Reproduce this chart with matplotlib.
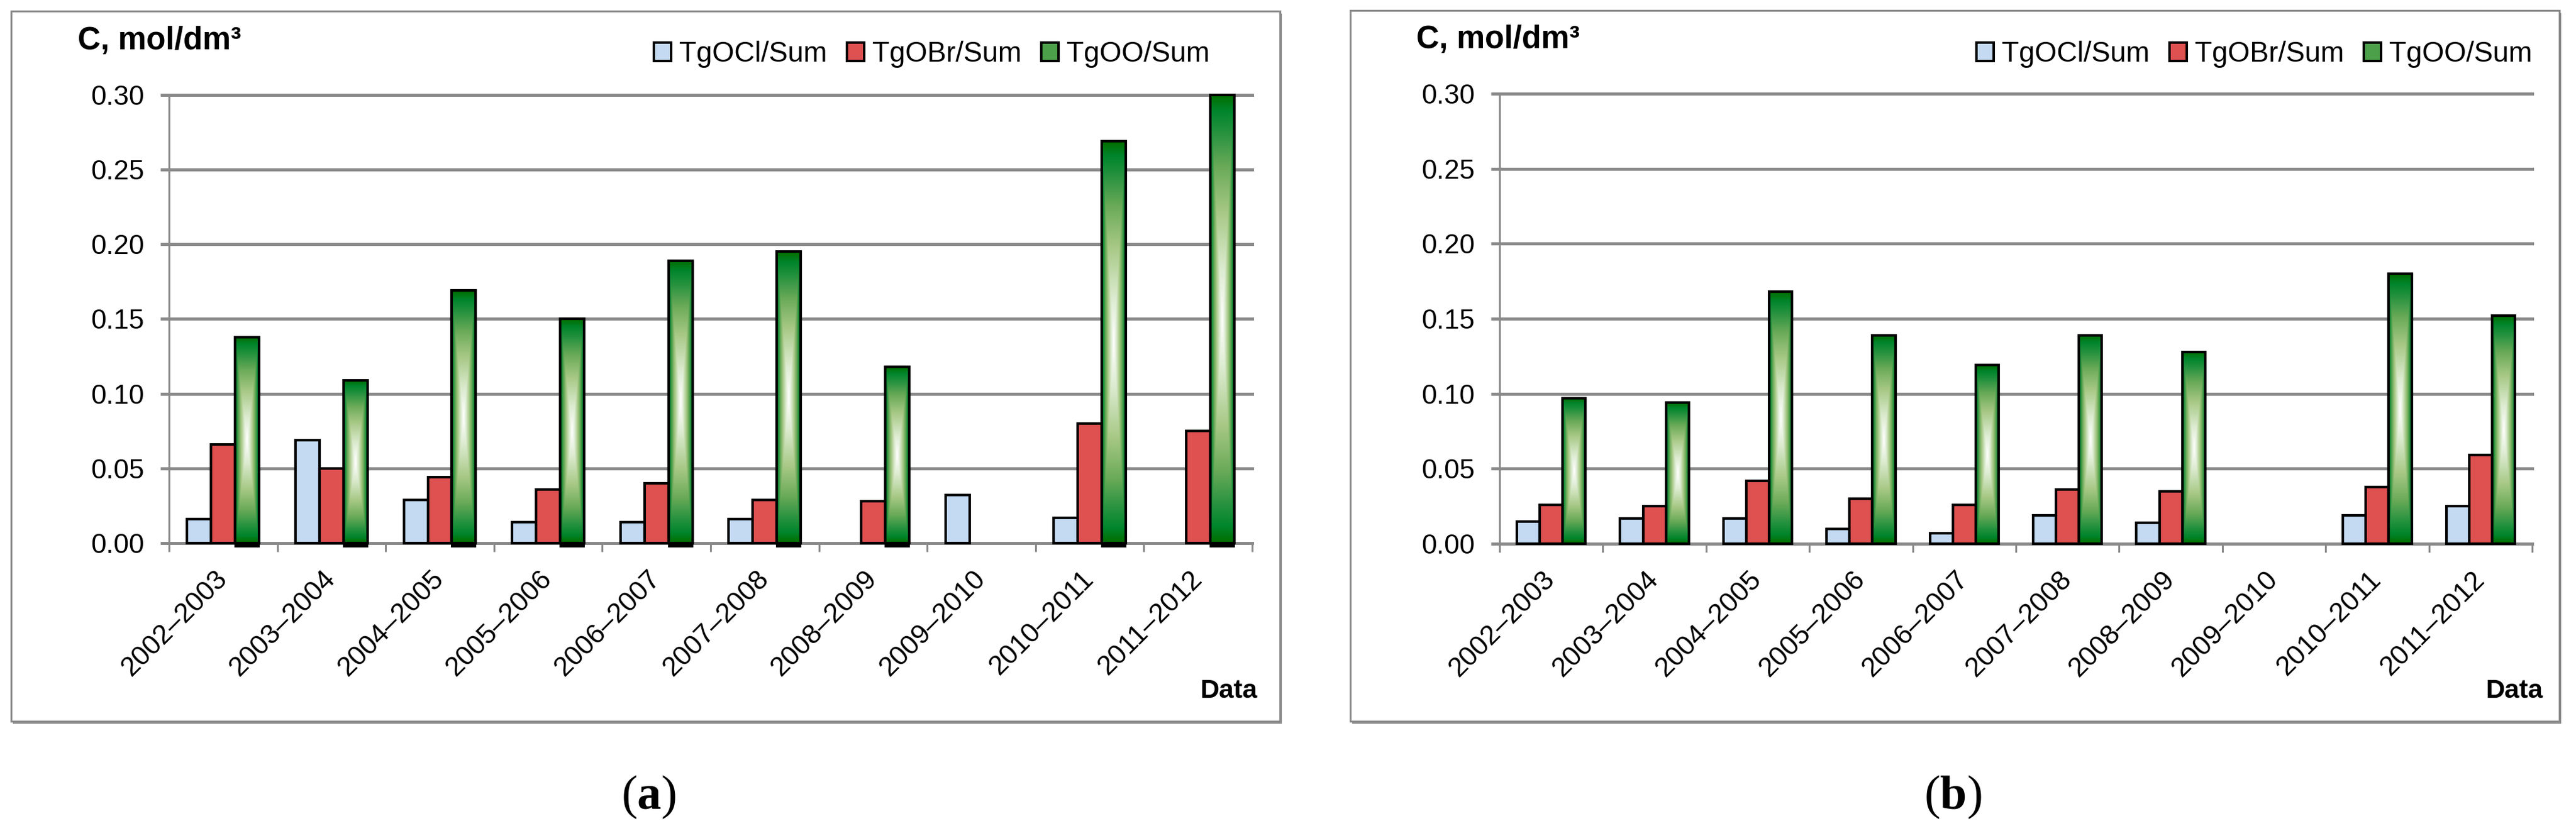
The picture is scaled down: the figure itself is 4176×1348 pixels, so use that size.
import numpy as np
import matplotlib.pyplot as plt
from matplotlib.colors import LinearSegmentedColormap
from matplotlib.patches import Patch, Rectangle

plt.rcParams['font.family'] = ['Liberation Sans', 'DejaVu Sans']
plt.rcParams['mathtext.fontset'] = 'custom'
plt.rcParams['mathtext.rm'] = 'Liberation Serif'
plt.rcParams['mathtext.bf'] = 'Liberation Serif:bold'

# data
periods = ["2002–2003", "2003–2004", "2004–2005", "2005–2006", "2006–2007",
           "2007–2008", "2008–2009", "2009–2010", "2010–2011", "2011–2012"]
series_names = ["TgOCl/Sum", "TgOBr/Sum", "TgOO/Sum"]

a_tgocl = [0.016, 0.069, 0.029, 0.014, 0.014, 0.016, 0.0, 0.032, 0.017, 0.0]
a_tgobr = [0.066, 0.050, 0.044, 0.036, 0.040, 0.029, 0.028, 0.0, 0.080, 0.075]
a_tgoo = [0.138, 0.109, 0.169, 0.150, 0.189, 0.195, 0.118, 0.0, 0.269, 0.300]

b_tgocl = [0.015, 0.017, 0.017, 0.010, 0.007, 0.019, 0.014, 0.0, 0.019, 0.025]
b_tgobr = [0.026, 0.025, 0.042, 0.030, 0.026, 0.036, 0.035, 0.0, 0.038, 0.059]
b_tgoo = [0.097, 0.094, 0.168, 0.139, 0.119, 0.139, 0.128, 0.0, 0.180, 0.152]

y_ticks = [0.00, 0.05, 0.10, 0.15, 0.20, 0.25, 0.30]

BLUE = "#c3daf2"
RED = "#df5050"
GREEN = "#4da04a"
GRAY = "#8a8a8a"

green_cmap = LinearSegmentedColormap.from_list("bar_green", [
    (0.00, "#ffffff"), (0.22, "#dcebd0"), (0.48, "#a6c884"),
    (0.68, "#6aaa58"), (0.84, "#23913e"), (0.93, "#00852c"), (1.00, "#006e00")])

W, H = 4176, 1348
fig = plt.figure(figsize=(W / 100, H / 100), dpi=100)


def frac(x0, y0, x1, y1):
    # pixel box (top-left origin) -> figure fraction rect
    return [x0 / W, 1 - y1 / H, (x1 - x0) / W, (y1 - y0) / H]


def gradient_bar(ax, x0, width, height):
    rect = Rectangle((x0, 0), width, height, facecolor="none",
                     edgecolor="black", linewidth=3.0, zorder=3, clip_on=False)
    ax.add_patch(rect)
    u = np.linspace(-1, 1, 80)
    v = np.linspace(-1, 1, 400)
    uu, vv = np.meshgrid(u, v)
    d = np.maximum(np.abs(uu), np.abs(vv))
    im = ax.imshow(d, cmap=green_cmap, vmin=0, vmax=1, origin="lower",
                   extent=(x0, x0 + width, 0, height), aspect="auto",
                   interpolation="bilinear", zorder=2)
    im.set_clip_path(rect)


def draw_panel(box, axbox, legend_xy, ylabel_xy, data_right, tag_x, tag,
               cl, br, oo, base_marks):
    # outer frame with a small shadow
    sx0, sy0, sx1, sy1 = box
    s = frac(sx0 + 3, sy0 + 4, sx1 + 3, sy1 + 4)
    fig.patches.append(Rectangle((s[0], s[1]), s[2], s[3],
                                 transform=fig.transFigure, facecolor=GRAY,
                                 edgecolor="none", zorder=-2))
    r = frac(*box)
    fig.patches.append(Rectangle((r[0], r[1]), r[2], r[3], transform=fig.transFigure,
                                 facecolor="white", edgecolor=GRAY, linewidth=2.2,
                                 zorder=-1))

    ax = fig.add_axes(frac(*axbox))
    x = np.arange(len(periods))
    bw = 0.222
    cl = np.array(cl)
    br = np.array(br)
    oo = np.array(oo)

    m = cl > 0
    ax.bar(x[m] - bw, cl[m], bw, color=BLUE, edgecolor="black", linewidth=3.0,
           zorder=3, clip_on=False)
    m = br > 0
    ax.bar(x[m], br[m], bw, color=RED, edgecolor="black", linewidth=3.0,
           zorder=3, clip_on=False)
    for xi, h in zip(x, oo):
        if h > 0:
            gradient_bar(ax, xi + bw / 2, bw, h)
    if base_marks:
        m = oo > 0
        ax.bar(x[m] + bw, -0.0025, bw, bottom=0, color="black", edgecolor="black",
               linewidth=1.5, zorder=3, clip_on=False)

    ax.set_xlim(-0.5, len(periods) - 0.5)
    ax.set_ylim(0, 0.30)
    ax.set_yticks(y_ticks)
    ax.set_yticklabels([f"{t:.2f}" for t in y_ticks])
    ax.set_axisbelow(True)
    ax.yaxis.grid(True, color=GRAY, linewidth=3.6)
    for gl in ax.get_ygridlines():
        gl.set_clip_on(False)
    ax.tick_params(axis="y", length=10, width=3.6, color=GRAY, pad=19, labelsize=32)

    ax.set_xticks(x)
    ax.set_xticklabels(periods, rotation=45, ha="right", va="center",
                       rotation_mode="anchor")
    ax.set_xticks(np.arange(-0.5, len(periods)), minor=True)
    ax.tick_params(axis="x", which="major", length=0, pad=37, labelsize=32)
    ax.tick_params(axis="x", which="minor", length=10, width=2.2, color=GRAY)

    for side in ["top", "right", "bottom"]:
        ax.spines[side].set_visible(False)
    ax.spines["left"].set_color(GRAY)
    ax.spines["left"].set_linewidth(2.2)
    ax.patch.set_alpha(0)

    handles = [Patch(facecolor=BLUE, edgecolor="black", linewidth=2.9),
               Patch(facecolor=RED, edgecolor="black", linewidth=2.9),
               Patch(facecolor=GREEN, edgecolor="black", linewidth=2.9)]
    fig.legend(handles, series_names, loc="center right",
               bbox_to_anchor=(legend_xy[0] / W, 1 - legend_xy[1] / H),
               ncol=3, frameon=False, fontsize=33, handlelength=0.62,
               handleheight=0.62, handletextpad=0.28, columnspacing=0.7,
               borderaxespad=0, borderpad=0)

    fig.text(ylabel_xy[0] / W, 1 - ylabel_xy[1] / H, "C, mol/dm³", ha="left",
             va="center", fontsize=37, fontweight="bold")
    fig.text(data_right / W, 1 - 1121 / H, "Data", ha="right", va="center",
             fontsize=31, fontweight="bold")
    fig.text(tag_x / W, 1 - 1293 / H, "($\\mathbf{" + tag + "}$)", ha="center",
             va="center", fontsize=56, family="Liberation Serif")
    return ax


draw_panel((18, 18, 2075, 1170), (274, 154, 2030, 881), (1961, 88), (126, 67),
           2038, 1052, "a", a_tgocl, a_tgobr, a_tgoo, True)
draw_panel((2189, 17, 4149, 1170), (2431, 152, 4105, 882), (4105, 88), (2296, 65),
           4122, 3166, "b", b_tgocl, b_tgobr, b_tgoo, False)

fig.savefig("out.png", dpi=100)
